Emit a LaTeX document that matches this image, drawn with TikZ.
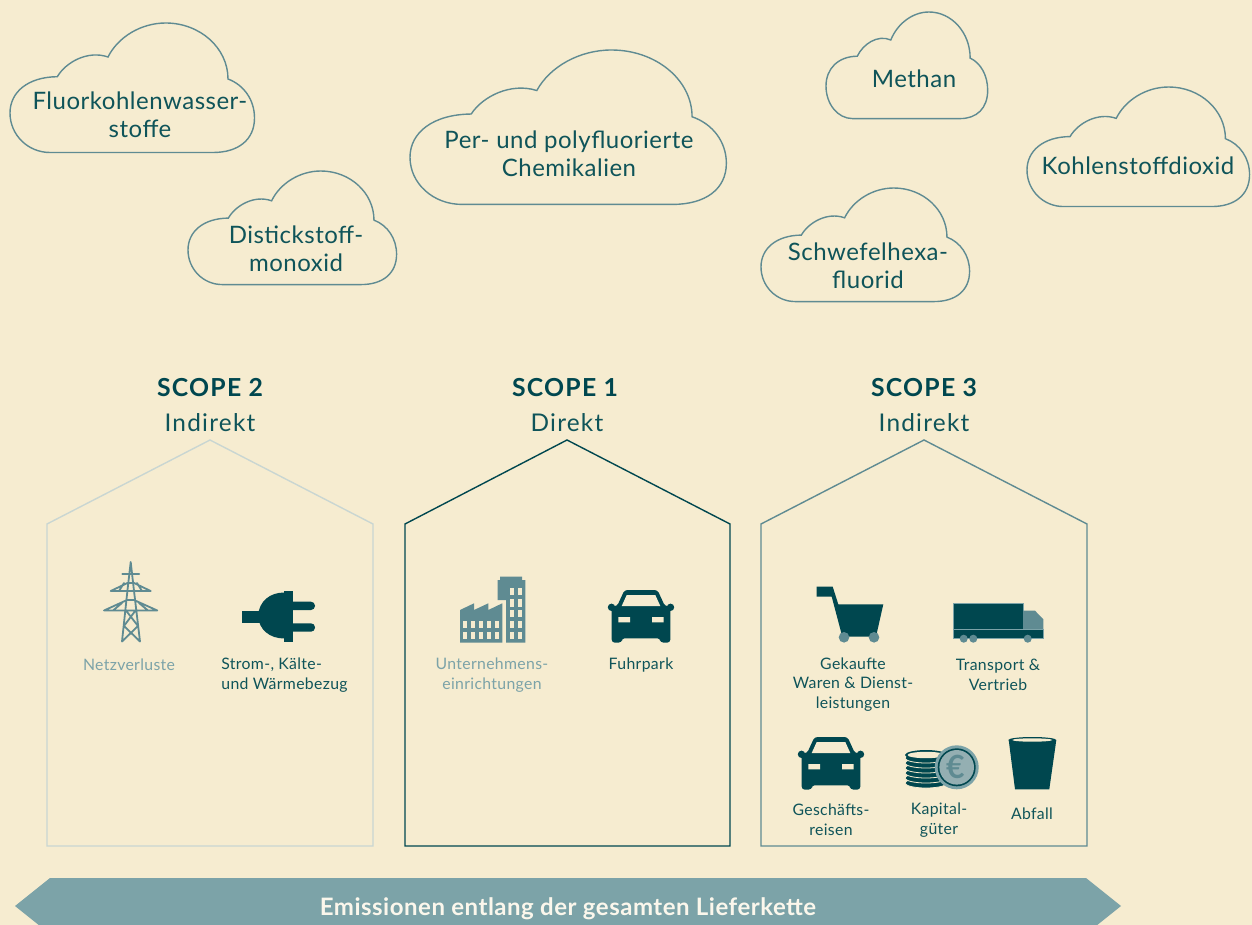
\documentclass[tikz,border=0pt]{standalone}
\usepackage{fontspec}
\setmainfont{Lato}
\newfontfamily\widefont[LetterSpace=2.1]{Lato}
\newfontfamily\titlefont[LetterSpace=5]{Lato}
\usepackage{xcolor}
\usetikzlibrary{calc}
\definecolor{paper}{HTML}{F6ECD0}
\definecolor{petrol}{HTML}{00474F}
\definecolor{inktext}{HTML}{0F5459}
\definecolor{midteal}{HTML}{5F8B92}
\definecolor{softteal}{HTML}{7CA3A8}
\definecolor{paleteal}{HTML}{C9D6D2}
\definecolor{coinface}{HTML}{94AFB2}
\tikzset{
	cloudline/.style={draw=midteal, line width=.7pt},
	cloudtext/.style={font=\widefont\fontsize{12}{14}\selectfont, text=inktext, align=center, inner sep=0pt},
	scopetitle/.style={font=\titlefont\fontsize{12.4}{14}\bfseries\selectfont, text=petrol, inner sep=0pt},
	scopesub/.style={font=\titlefont\fontsize{12.2}{14}\selectfont, text=inktext, inner sep=0pt},
	iconlabel/.style={font=\widefont\fontsize{7.9}{9.9}\selectfont, text=inktext, align=center, inner sep=0pt},
	palelabel/.style={iconlabel, text=softteal},
	house/.style={line width=.7pt, line join=miter},
	pics/car/.style={code={
		\fill[petrol, rounded corners=1.5pt] (-16.5,-26.3) -- (16.5,-26.3) -- (24,-10) -- (29.3,-10) -- (29.3,26.3) -- (19.3,26.3) -- (19.3,22) -- (-19.3,22) -- (-19.3,26.3) -- (-29.3,26.3) -- (-29.3,-10) -- (-24,-10) -- cycle;
		\fill[petrol] (-29.5,-9) circle (3.7) (29.5,-9) circle (3.7);
		\fill[paper] (-14.3,-21.3) -- (14.3,-21.3) -- (19.3,-10.3) -- (-19.3,-10.3) -- cycle;
		\fill[paper] (-22.7,.7) rectangle (-11,6) (11,.7) rectangle (22.7,6);
	}},
}
\newcommand{\cloud}[4]{\draw[cloudline, shift={(#1,#2)}, xscale=#3/245, yscale=#4/130]
	(47.3,53.7) .. controls (56,39) and (78,27) .. (98,34)
	.. controls (108,14) and (131,0) .. (155.7,0)
	.. controls (190,0) and (218,25) .. (218,56)
	.. controls (234,62) and (244.5,77) .. (244.5,95)
	.. controls (244.5,117) and (228,129.5) .. (203,129.5)
	-- (40,129.5)
	.. controls (18,129.5) and (0,112) .. (0,90)
	.. controls (0,69) and (18,54) .. (47.3,53.7) -- cycle;}
\begin{document}
\begin{tikzpicture}[x=.5pt, y=-.5pt]
	\useasboundingbox (0,0) rectangle (1252,925);
	\clip (0,0) rectangle (1252,925);
	\fill[paper] (0,0) rectangle (1252,925);
	% clouds
	\cloud{10}{23}{245}{130}
	\cloud{188}{171}{209}{114}
	\cloud{410}{50}{317}{155}
	\cloud{826}{12}{162}{107}
	\cloud{1027}{87}{223}{120}
	\cloud{761}{188}{209}{114}
	\node[cloudtext] (fluor) at (140,114.5) {Fluorkohlenwasser-\\stoffe};
	\node[cloudtext] (distick) at (296,248.5) {Distickstoff-\\monoxid};
	\node[cloudtext] (perfluor) at (569,153.5) {Per- und polyfluorierte\\Chemikalien};
	\node[cloudtext] (methan) at (914,79) {Methan};
	\node[cloudtext] (kohlen) at (1138,165.5) {Kohlenstoffdioxid};
	\node[cloudtext] (schwefel) at (868,266) {Schwefelhexa-\\fluorid};
	% houses
	\draw[house, paleteal] (47,524) -- (210,440) -- (373,524) -- (373,846) -- (47,846) -- cycle;
	\draw[house, petrol] (405,524) -- (567,440) -- (730,524) -- (730,846) -- (405,846) -- cycle;
	\draw[house, midteal] (761,524) -- (924,440) -- (1087,524) -- (1087,846) -- (761,846) -- cycle;
	\node[scopetitle] (scope2) at (210,387.5) {SCOPE 2};
	\node[scopesub] (sub2) at (210,422.5) {Indirekt};
	\node[scopetitle] (scope1) at (565,387.5) {SCOPE 1};
	\node[scopesub] (sub1) at (567,422.5) {Direkt};
	\node[scopetitle] (scope3) at (924,387.5) {SCOPE 3};
	\node[scopesub] (sub3) at (924,422.5) {Indirekt};
	% pylon
	\draw[midteal, line width=.9pt, line cap=round, line join=round]
		(130.7,562) -- (127.5,590) -- (122,641.5) (130.7,562) -- (133.9,590) -- (140,641.5)
		(122.3,574) -- (139.3,574) (110.7,591) -- (150.7,591) (104,610.5) -- (157.3,610.5)
		(110.7,591) -- (127.5,583) -- (134,583) -- (150.7,591)
		(104,610.5) -- (127,600) -- (134,600) -- (157.3,610.5)
		(119,591) -- (124,583) (142,591) -- (137,583)
		(113,610.5) -- (122,603) (148,610.5) -- (139,603)
		(126,610.5) -- (138,626) -- (122,641.5) (135.5,610.5) -- (124,626) -- (140,641.5);
	% plug
	\fill[petrol] (242.3,611) rectangle (262,622.7);
	\fill[petrol] (284.3,592.5) .. controls (270,592.5) and (259,601) .. (258,616) .. controls (259,630) and (270,638.5) .. (284.3,638.5) -- cycle;
	\fill[petrol] (284.3,590.7) rectangle (292.7,642.3);
	\fill[petrol, rounded corners=2pt] (288,601.7) rectangle (315,610);
	\fill[petrol, rounded corners=2pt] (288,623.3) rectangle (315,631.7);
	% factory
	\fill[midteal] (497.5,580) -- (500,580) -- (500,576.7) -- (522,576.7) -- (522,580) -- (525.3,580) -- (525.3,642.7) -- (506,642.7) -- (506,600) -- (497.5,600) -- cycle;
	\fill[midteal] (460,610) -- (474,603.3) -- (474,610) -- (488.3,603.3) -- (488.3,610) -- (502.3,603.3) -- (502.3,642.7) -- (460,642.7) -- cycle;
	\foreach \wx in {510,517.7}
		\foreach \wy in {587.7,599.3,610,620.7,632}
			\fill[paper] (\wx,\wy) rectangle ++(3.8,7.3);
	\foreach \wx in {463.3,471.3,479.3,487.3,495.3}
		\foreach \wy in {621,632}
			\fill[paper] (\wx,\wy) rectangle ++(4,7.3);
	% cars
	\pic at (641,616.3) {car};
	\pic at (831,763.3) {car};
	% cart
	\fill[petrol] (816.7,586.7) -- (832.7,586.7) -- (838.3,604.3) -- (883.3,604.3) -- (876,636.7) -- (842.3,636.7) -- (831.7,596.7) -- (816.7,596.7) -- cycle;
	\fill[midteal] (844,637.3) circle (5.3) (874,637.3) circle (5.3);
	% truck
	\draw[softteal, fill=petrol, line width=.5pt] (953.5,603.5) rectangle (1023,629.5);
	\fill[midteal] (1023,610.7) -- (1035,610.7) -- (1043.3,619.3) -- (1043.3,629.5) -- (1023,629.5) -- cycle;
	\draw[softteal, fill=petrol, line width=.5pt] (953.5,629.5) rectangle (1043.3,638.3);
	\fill[midteal] (963.7,638.7) circle (4) (973.3,638.7) circle (4) (1027.7,638.7) circle (4);
	% coins
	\foreach \cy in {783,778,773,768,763,758}
		\draw[paper, fill=petrol, line width=.4pt] (926,\cy) ellipse (21 and 5);
	\fill[petrol] (926,755) ellipse (21 and 5);
	\fill[paper] (926,755) ellipse (18.5 and 3.2);
	\fill[softteal] (956.7,767.3) circle (22);
	\fill[petrol] (956.7,767.3) circle (19);
	\fill[coinface] (956.7,767.3) circle (17.3);
	\node[font=\fontsize{16}{16}\bfseries\selectfont, text=midteal, inner sep=0pt] (euro) at (955.5,767.3) {€};
	% bin
	\fill[petrol] (1008.7,740) -- (1015,789.3) -- (1049.3,789.3) -- (1056.3,740) -- cycle;
	\fill[petrol] (1032.3,740) ellipse (24 and 3);
	\fill[paper] (1032.3,740) ellipse (20 and 1.7);
	% icon labels
	\node[palelabel] (netz) at (129,664.5) {Netzverluste};
	\node[iconlabel, align=left] (strom) at (284.5,675) {Strom-, Kälte-\\und Wärmebezug};
	\node[palelabel] (firma) at (492,675.5) {Unternehmens-\\einrichtungen};
	\node[iconlabel] (fuhr) at (641,665) {Fuhrpark};
	\node[iconlabel] (waren) at (853,684.5) {Gekaufte\\Waren \& Dienst-\\leistungen};
	\node[iconlabel] (vertrieb) at (998,674.5) {Transport \&\\Vertrieb};
	\node[iconlabel] (reisen) at (831,820) {Geschäfts-\\reisen};
	\node[iconlabel] (kapital) at (939,820) {Kapital-\\güter};
	\node[iconlabel] (abfall) at (1032,813.5) {Abfall};
	% band
	\fill[softteal] (15,906) -- (50,878) -- (1086,878) -- (1121,906) -- (1086,934) -- (50,934) -- cycle;
	\node[font=\widefont\fontsize{12}{14}\bfseries\selectfont, text=paper!40!white, inner sep=0pt] (kette) at (568,909) {Emissionen entlang der gesamten Lieferkette};
\end{tikzpicture}
\end{document}
